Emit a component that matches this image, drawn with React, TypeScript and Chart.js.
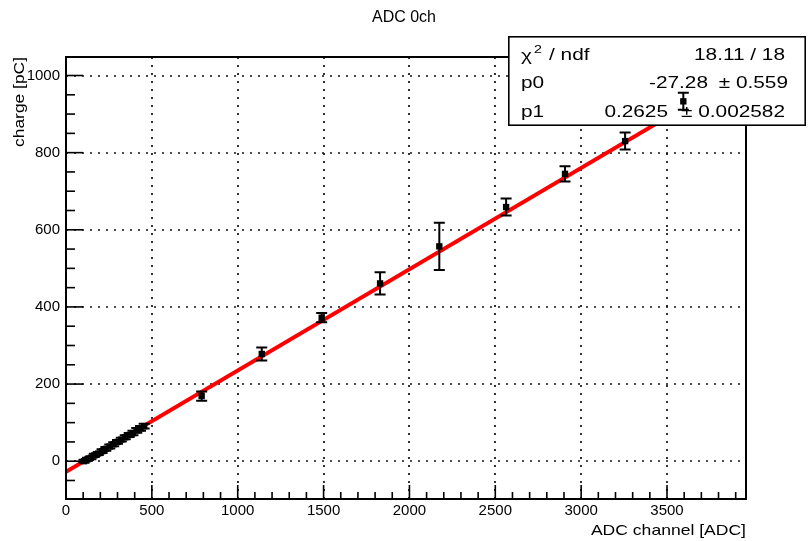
import React, { useEffect, useRef } from 'react';
import { Chart, registerables } from 'chart.js';

Chart.register(...registerables);

const FONT = '"Liberation Sans", Arial, Helvetica, sans-serif';

// ---- data ----
const adcChannel = [105, 125, 145, 165, 188, 210, 232, 255, 278, 300, 322, 345, 368, 390, 412, 434, 455, 790, 1140, 1489, 1829, 2174, 2563, 2906, 3256, 3595];
const charge = [0, 5, 9, 15, 20, 26, 32, 38, 44, 50, 56, 62, 68, 73, 80, 85, 91, 169, 278, 372, 461, 557, 659, 745, 830, 933];
const chargeErr = [4, 4, 4, 4, 4, 5, 5, 5, 5, 5, 5, 5, 5, 6, 6, 6, 6, 12, 17, 12, 29, 61, 22, 20, 22, 22];

const fitP0 = -27.28;
const fitP1 = 0.2625;
const fitXRange = [0, 3960];

const xRange = [0, 3960];
const yRange = [-98, 1048];
const xTicks = [0, 500, 1000, 1500, 2000, 2500, 3000, 3500];
const yTicks = [0, 200, 400, 600, 800, 1000];
const xMinorStep = 100;
const yMinorStep = 50;

const chartTitle = 'ADC 0ch';
const xAxisTitle = 'ADC channel [ADC]';
const yAxisTitle = 'charge [pC]';
const chi2Text = '18.11 / 18';
const paramNames = ['p0', 'p1'];
const paramValues = ['-27.28', '0.2625'];
const paramErrors = ['0.559', '0.002582'];

function drawText(
  ctx: CanvasRenderingContext2D,
  text: string,
  x: number,
  y: number,
  size: number,
  align: CanvasTextAlign,
  sx = 1,
  rotate = 0
) {
  ctx.save();
  ctx.font = `${size}px ${FONT}`;
  ctx.textAlign = align;
  ctx.textBaseline = 'middle';
  ctx.fillStyle = '#000';
  ctx.translate(x, y);
  if (rotate) ctx.rotate(rotate);
  ctx.scale(sx, 1);
  ctx.fillText(text, 0, 0);
  ctx.restore();
}

const rootPlugin = {
  id: 'rootStyle',
  beforeDatasetsDraw(chart: any) {
    const { ctx, chartArea: a, scales } = chart;
    const xs = scales.x;
    const ys = scales.y;
    ctx.save();
    ctx.strokeStyle = '#111';
    ctx.lineWidth = 1.7;
    ctx.setLineDash([2, 6]);
    xTicks.forEach((v) => {
      const px = Math.round(xs.getPixelForValue(v));
      if (px <= a.left + 1) return;
      ctx.beginPath();
      ctx.moveTo(px, a.bottom);
      ctx.lineTo(px, a.top);
      ctx.stroke();
    });
    yTicks.forEach((v) => {
      const py = Math.round(ys.getPixelForValue(v));
      ctx.beginPath();
      ctx.moveTo(a.left, py);
      ctx.lineTo(a.right, py);
      ctx.stroke();
    });
    ctx.restore();
  },
  afterDatasetDraw(chart: any, args: any) {
    const { ctx, chartArea: a, scales } = chart;
    const xs = scales.x;
    const ys = scales.y;
    if (args.index === 1) {
      // frame + ticks
      ctx.save();
      ctx.strokeStyle = '#000';
      ctx.lineWidth = 2;
      ctx.strokeRect(a.left, a.top, a.right - a.left, a.bottom - a.top);
      ctx.lineWidth = 1.6;
      for (let v = Math.ceil(xRange[0] / xMinorStep) * xMinorStep; v <= xRange[1]; v += xMinorStep) {
        const px = xs.getPixelForValue(v);
        const len = v % 500 === 0 ? 14 : 7;
        ctx.beginPath();
        ctx.moveTo(px, a.bottom);
        ctx.lineTo(px, a.bottom - len);
        ctx.stroke();
      }
      for (let v = Math.ceil(yRange[0] / yMinorStep) * yMinorStep; v <= yRange[1]; v += yMinorStep) {
        const py = ys.getPixelForValue(v);
        const len = v % 200 === 0 ? 17 : 9;
        ctx.beginPath();
        ctx.moveTo(a.left, py);
        ctx.lineTo(a.left + len, py);
        ctx.stroke();
      }
      ctx.restore();

      // stats box
      const bx = 508, by = 36, bw = 298, bh = 90;
      ctx.save();
      ctx.fillStyle = '#fff';
      ctx.fillRect(bx, by, bw, bh);
      ctx.strokeStyle = '#000';
      ctx.lineWidth = 1.6;
      ctx.strokeRect(bx + 0.8, by + 0.8, bw - 1.6, bh - 1.6);
      ctx.restore();
      const sx = 1.3;
      const rows = [56, 84, 113];
      drawText(ctx, 'χ', 521, rows[0] + 1, 16, 'left', sx);
      drawText(ctx, '2', 534, rows[0] - 6, 11, 'left', sx);
      drawText(ctx, '/ ndf', 549, rows[0], 16, 'left', sx);
      drawText(ctx, chi2Text, 785, rows[0], 16, 'right', sx);
      paramNames.forEach((n, i) => {
        const y = rows[i + 1];
        drawText(ctx, n, 521, y, 16, 'left', sx);
      });
      drawText(ctx, paramValues[0], 708, rows[1], 16, 'right', sx);
      drawText(ctx, '± ' + paramErrors[0], 788, rows[1], 16, 'right', sx);
      drawText(ctx, paramValues[1], 668, rows[2], 16, 'right', sx);
      drawText(ctx, '± ' + paramErrors[1], 785, rows[2], 16, 'right', sx);
    }
  },
  beforeDatasetDraw(chart: any, args: any) {
    if (args.index !== 0) return;
    const { ctx, scales } = chart;
    const ys = scales.y;
    const meta = chart.getDatasetMeta(0);
    ctx.save();
    ctx.strokeStyle = '#000';
    ctx.lineWidth = 2;
    meta.data.forEach((pt: any, i: number) => {
      const x = pt.x;
      const yT = ys.getPixelForValue(charge[i] + chargeErr[i]);
      const yB = ys.getPixelForValue(charge[i] - chargeErr[i]);
      ctx.beginPath();
      ctx.moveTo(x, yT);
      ctx.lineTo(x, yB);
      ctx.moveTo(x - 5.5, yT);
      ctx.lineTo(x + 5.5, yT);
      ctx.moveTo(x - 5.5, yB);
      ctx.lineTo(x + 5.5, yB);
      ctx.stroke();
    });
    ctx.restore();
  },
  afterDraw(chart: any) {
    const { ctx, chartArea: a } = chart;
    drawText(ctx, chartTitle, 404, 18, 16, 'center', 1);
    drawText(ctx, xAxisTitle, a.right, 531, 15, 'right', 1.17);
    drawText(ctx, yAxisTitle, 20, a.top, 15, 'right', 1.16, -Math.PI / 2);
  },
};

export default function App() {
  const ref = useRef<HTMLCanvasElement | null>(null);
  useEffect(() => {
    if (!ref.current) return;
    const chart = new Chart(ref.current, {
      type: 'scatter',
      data: {
        datasets: [
          {
            data: adcChannel.map((x, i) => ({ x, y: charge[i] })),
            pointStyle: 'rect',
            pointRadius: 4.5,
            backgroundColor: '#000',
            borderColor: '#000',
            borderWidth: 0,
            order: 0,
          } as any,
          {
            data: fitXRange.map((x) => ({ x, y: fitP0 + fitP1 * x })),
            showLine: true,
            borderColor: '#ff0000',
            borderWidth: 4,
            pointRadius: 0,
            fill: false,
            order: 1,
          } as any,
        ],
      },
      options: {
        animation: false,
        responsive: false,
        maintainAspectRatio: false,
        devicePixelRatio: 1,
        events: [],
        layout: { padding: { left: 0, top: 57, right: 62, bottom: 0 } },
        plugins: {
          legend: { display: false },
          tooltip: { enabled: false },
          title: { display: false },
        },
        scales: {
          x: {
            type: 'linear',
            position: 'bottom',
            min: xRange[0],
            max: xRange[1],
            grid: { display: false, drawTicks: false },
            border: { display: false },
            ticks: {
              font: { family: FONT, size: 15 },
              color: '#000',
              padding: 3,
              maxRotation: 0,
              autoSkip: false,
              callback: (v: any) => String(v),
            },
            afterBuildTicks: (s: any) => {
              s.ticks = xTicks.map((v) => ({ value: v }));
            },
            afterFit: (s: any) => {
              s.height = 42;
            },
          },
          y: {
            type: 'linear',
            min: yRange[0],
            max: yRange[1],
            grid: { display: false, drawTicks: false },
            border: { display: false },
            ticks: {
              font: { family: FONT, size: 15 },
              color: '#000',
              padding: 6,
              autoSkip: false,
              callback: (v: any) => String(v),
            },
            afterBuildTicks: (s: any) => {
              s.ticks = yTicks.map((v) => ({ value: v }));
            },
            afterFit: (s: any) => {
              s.width = 66;
            },
          },
        },
      } as any,
      plugins: [rootPlugin],
    });
    return () => chart.destroy();
  }, []);
  return (
    <div style={{ position: 'fixed', left: 0, top: 0, width: 808, height: 541, background: '#fff' }}>
      <canvas ref={ref} width={808} height={541} style={{ display: 'block', width: 808, height: 541 }} />
    </div>
  );
}
